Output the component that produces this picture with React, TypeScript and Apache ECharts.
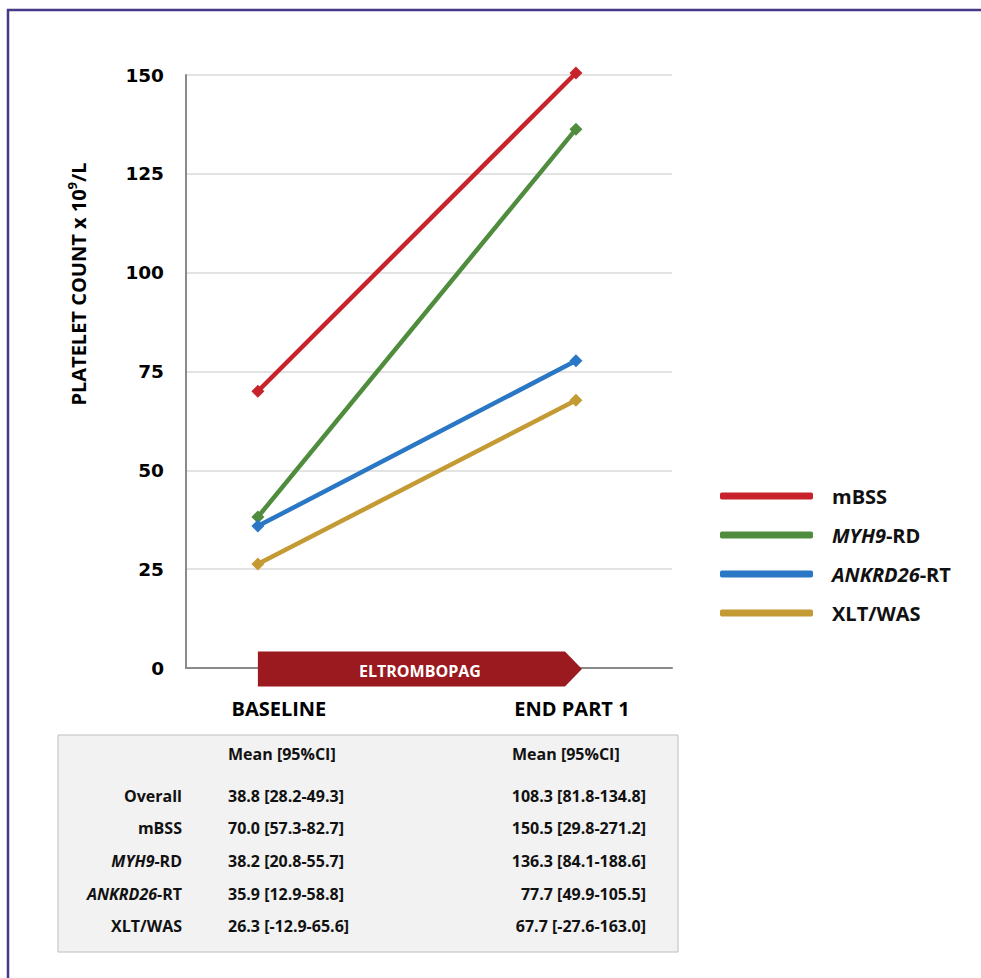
import React, { useEffect, useRef } from "react";
import * as echarts from "echarts";

const timepoints = ["BASELINE", "END PART 1"];
const timeValues = [0, 1];
const seriesNames = ["mBSS", "MYH9-RD", "ANKRD26-RT", "XLT/WAS"];
const legendLabels = ["mBSS", "{i|MYH9}-RD", "{i|ANKRD26}-RT", "XLT/WAS"];
const baselineMeans = [70.0, 38.2, 35.9, 26.3];
const endMeans = [150.5, 136.3, 77.7, 67.7];
const seriesColors = ["#c8232b", "#4f8c3d", "#2a77c5", "#c49a35"];
const yMin = 0;
const yMax = 150;
const yStep = 25;
const treatmentLabel = "ELTROMBOPAG";
const tableHeader = "Mean [95%CI]";
const tableRowLabels = ["Overall", "mBSS", "{i|MYH9}-RD", "{i|ANKRD26}-RT", "XLT/WAS"];
const tableBaseline = ["38.8 [28.2-49.3]", "70.0 [57.3-82.7]", "38.2 [20.8-55.7]", "35.9 [12.9-58.8]", "26.3 [-12.9-65.6]"];
const tableEnd = ["108.3 [81.8-134.8]", "150.5 [29.8-271.2]", "136.3 [84.1-188.6]", "77.7 [49.9-105.5]", "67.7 [-27.6-163.0]"];

const SANS = '"Open Sans", "Liberation Sans", sans-serif';

export default function App() {
  const ref = useRef<HTMLDivElement>(null);
  useEffect(() => {
    if (!ref.current) return;
    const chart = echarts.init(ref.current, undefined, { renderer: "svg" });

    const tableTop = 735;
    const rowYs = [796, 828, 861, 894, 926];
    const tableFont = { fontFamily: SANS, fontWeight: "bold" as const, fontSize: 16, fill: "#111" };
    const tableGraphics: any[] = [
      {
        type: "rect",
        shape: { x: 58, y: tableTop, width: 620, height: 217 },
        style: { fill: "#f2f2f2", stroke: "#bdbdbd", lineWidth: 1 },
        z: 1,
      },
      { type: "text", x: 228, y: 754, z: 2, style: { ...tableFont, text: tableHeader, align: "left", verticalAlign: "middle" } },
      { type: "text", x: 512, y: 754, z: 2, style: { ...tableFont, text: tableHeader, align: "left", verticalAlign: "middle" } },
    ];
    tableRowLabels.forEach((lab, i) => {
      tableGraphics.push({
        type: "text", x: 182, y: rowYs[i], z: 2,
        style: {
          ...tableFont, text: lab, align: "right", verticalAlign: "middle",
          rich: { i: { fontFamily: SANS, fontWeight: "bold", fontStyle: "italic", fontSize: 16, fill: "#111" } },
        },
      });
      tableGraphics.push({ type: "text", x: 228, y: rowYs[i], z: 2, style: { ...tableFont, text: tableBaseline[i], align: "left", verticalAlign: "middle" } });
      tableGraphics.push({ type: "text", x: 646, y: rowYs[i], z: 2, style: { ...tableFont, text: tableEnd[i], align: "right", verticalAlign: "middle" } });
    });

    const labelFont = { fontFamily: SANS, fontWeight: "bold" as const, fontSize: 20, color: "#000" };

    const option: any = {
      animation: false,
      backgroundColor: "#ffffff",
      grid: { left: 186, right: 309, top: 75, bottom: 310, containLabel: false },
      xAxis: {
        type: "value",
        min: -0.226,
        max: 1.302,
        splitLine: { show: false },
        axisTick: { show: false },
        axisLine: { show: true, onZero: false, lineStyle: { color: "#8a8a8a", width: 2 } },
        axisLabel: {
          customValues: timeValues,
          margin: 30,
          ...labelFont,
          formatter: (v: number) => (Math.round(v) === 0 ? "{a|" + timepoints[0] + "}" : "{b|" + timepoints[1] + "}"),
          rich: {
            a: { ...labelFont, padding: [0, 0, 0, 42] },
            b: { ...labelFont, padding: [0, 8, 0, 0] },
          },
        },
      },
      yAxis: {
        type: "value",
        min: yMin,
        max: yMax,
        interval: yStep,
        axisLine: { show: true, onZero: false, lineStyle: { color: "#8a8a8a", width: 2 } },
        axisTick: { show: false },
        splitLine: { show: true, lineStyle: { color: "#dadada", width: 1.5 } },
        axisLabel: { fontFamily: '"DejaVu Sans", sans-serif', fontWeight: "bold", fontSize: 18.5, color: "#000", margin: 22 },
      },
      legend: {
        orient: "vertical",
        left: 715,
        top: 481,
        itemWidth: 93,
        itemHeight: 7,
        itemGap: 19,
        icon: "roundRect",
        selectedMode: false,
        data: seriesNames,
        itemStyle: { borderWidth: 0 },
        formatter: (name: string) => legendLabels[seriesNames.indexOf(name)],
        textStyle: {
          fontFamily: SANS, fontWeight: "bold", fontSize: 20, color: "#111", lineHeight: 20,
          padding: [0, 0, 0, 14],
          rich: { i: { fontFamily: SANS, fontWeight: "bold", fontStyle: "italic", fontSize: 20, color: "#111" } },
        },
      },
      graphic: [
        {
          type: "rect",
          shape: { x: 8, y: 10, width: 1000, height: 1000 },
          style: { fill: "none", stroke: "#453a87", lineWidth: 2.5 },
          z: 0,
        },
        {
          type: "text",
          x: 78,
          y: 284,
          rotation: Math.PI / 2,
          z: 3,
          style: {
            text: "{t|PLATELET COUNT x 10}{s|9}{t|/L}",
            align: "center",
            verticalAlign: "middle",
            rich: {
              t: { fontFamily: SANS, fontWeight: "bold", fontSize: 20, fill: "#000", lineHeight: 26, verticalAlign: "middle" },
              s: { fontFamily: SANS, fontWeight: "bold", fontSize: 13, fill: "#000", lineHeight: 14, verticalAlign: "top" },
            },
          },
        },
        ...tableGraphics,
      ],
      series: [
        {
          type: "custom",
          name: "treatment",
          data: [[timeValues[0], timeValues[1]]],
          clip: false,
          silent: true,
          z: 4,
          renderItem: (_params: any, api: any) => {
            const start = api.coord([api.value(0), 0]);
            const end = api.coord([api.value(1), 0]);
            const x0 = start[0];
            const x1 = end[0] - 11;
            const tip = end[0] + 6;
            const cy = start[1] + 1;
            const h = 17.5;
            return {
              type: "group",
              children: [
                {
                  type: "polygon",
                  shape: { points: [[x0, cy - h], [x1, cy - h], [tip, cy], [x1, cy + h], [x0, cy + h]] },
                  style: { fill: "#9a1a1f" },
                },
                {
                  type: "text",
                  style: {
                    text: treatmentLabel, x: (x0 + tip) / 2, y: cy + 2, align: "center", verticalAlign: "middle",
                    fill: "#ffffff", fontFamily: SANS, fontWeight: "bold", fontSize: 16,
                  },
                },
              ],
            };
          },
        },
        ...seriesNames.map((name, i) => ({
          type: "line",
          name,
          data: [[timeValues[0], baselineMeans[i]], [timeValues[1], endMeans[i]]],
          symbol: "diamond",
          symbolSize: 13,
          clip: false,
          z: 5,
          lineStyle: { width: 4.5, color: seriesColors[i] },
          itemStyle: { color: seriesColors[i] },
        })),
      ],
    };
    chart.setOption(option);
    return () => chart.dispose();
  }, []);
  return <div ref={ref} style={{ position: "absolute", left: 0, top: 0, width: 981, height: 978 }} />;
}
